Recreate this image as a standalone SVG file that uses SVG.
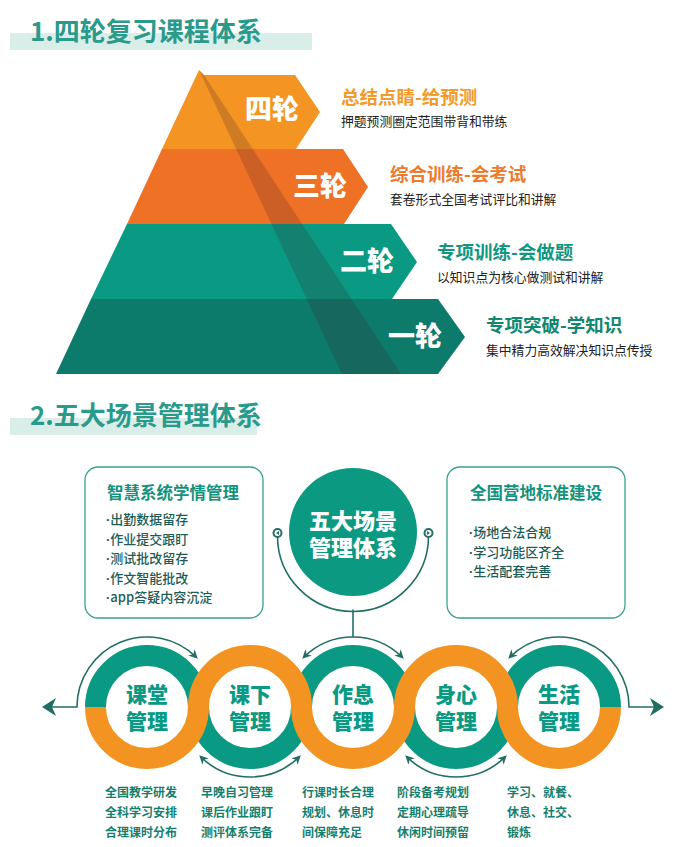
<svg xmlns="http://www.w3.org/2000/svg" width="684" height="847" viewBox="0 0 684 847">
<defs>
<style>
text { font-family: "Noto Sans CJK SC", "Noto Sans", sans-serif; }
.h1 { font-size:26px; font-weight:700; fill:#2a9a8b; }
.lvl { font-size:27px; font-weight:900; fill:#fff; }
.hd { font-size:18.5px; font-weight:700; }
.ds { font-size:12.8px; fill:#222; }
.bt { font-size:16.5px; font-weight:700; fill:#13927c; }
.bi { font-size:13px; font-weight:500; fill:#1d5c55; }
.dot { font-family: "Liberation Sans", Arial, sans-serif; font-weight:700; }
.cl { font-size:21px; font-weight:900; fill:#0a9a83; text-anchor:middle; }
.ct { font-size:22px; font-weight:900; fill:#fff; text-anchor:middle; }
.ft { font-size:12px; font-weight:700; fill:#157f6e; }
.ln { fill:none; stroke:#226f63; stroke-width:1.6; }
.box { fill:#fff; stroke:#3aa090; stroke-width:1.3; }
.bar { fill:#d9ede9; }
</style>
<marker id="ah" viewBox="0 0 10 10" refX="8" refY="5" markerWidth="9" markerHeight="9" markerUnits="userSpaceOnUse" orient="auto-start-reverse">
<path d="M0,0 L10,5 L0,10 L3,5 z" fill="#226f63"/>
</marker>
<marker id="big" viewBox="0 0 14 18" refX="12" refY="9" markerWidth="14" markerHeight="18" markerUnits="userSpaceOnUse" orient="auto">
<path d="M0,0 L14,9 L0,18 L4,9 z" fill="#1f6e61"/>
</marker>
</defs>
<rect width="684" height="847" fill="#fff"/>

<g id="title1">
<rect class="bar" x="10" y="33" width="302" height="17"/>
<text class="h1" x="30" y="41">1.四轮复习课程体系</text>
</g>

<g id="pyramid">
<polygon id="layer4" points="199,70 204,75 295,75 320,112 296,149 162,149" fill="#f39423"/>
<polygon id="layer3" points="162,149 343,149 368,187 344,224 127,224" fill="#ef7125"/>
<polygon id="layer2" points="127,224 391,224 417,262 392,299 91,299" fill="#0a9a83"/>
<polygon id="layer1" points="91,299 438,299 465,337 438,374 56,374" fill="#0d7b6c"/>
<polygon points="199,70 204,75 401,374 342,374" fill="#3b1a2a" opacity="0.2"/>
<text class="lvl" x="245" y="119">四轮</text>
<text class="lvl" x="293" y="196">三轮</text>
<text class="lvl" x="340" y="271">二轮</text>
<text class="lvl" x="388" y="346">一轮</text>
</g>

<g id="round4">
<text class="hd" x="341" y="104" fill="#f39a2c">总结点睛-给预测</text>
<text class="ds" x="341" y="126">押题预测圈定范围带背和带练</text>
</g>
<g id="round3">
<text class="hd" x="390" y="181" fill="#ee7a2e">综合训练-会考试</text>
<text class="ds" x="390" y="204">套卷形式全国考试评比和讲解</text>
</g>
<g id="round2">
<text class="hd" x="437" y="259" fill="#12967f">专项训练-会做题</text>
<text class="ds" x="437" y="282">以知识点为核心做测试和讲解</text>
</g>
<g id="round1">
<text class="hd" x="486" y="332" fill="#11876f">专项突破-学知识</text>
<text class="ds" x="486" y="355">集中精力高效解决知识点传授</text>
</g>

<g id="title2">
<rect class="bar" x="10" y="418" width="247" height="17"/>
<text class="h1" x="30" y="425">2.五大场景管理体系</text>
</g>

<g id="box-left">
<rect class="box" x="85" y="467" width="178" height="151" rx="13"/>
<text class="bt" x="107" y="499">智慧系统学情管理</text>
<text class="bi" x="106" y="524"><tspan class="dot">·</tspan>出勤数据留存</text>
<text class="bi" x="106" y="544"><tspan class="dot">·</tspan>作业提交跟盯</text>
<text class="bi" x="106" y="563"><tspan class="dot">·</tspan>测试批改留存</text>
<text class="bi" x="106" y="583"><tspan class="dot">·</tspan>作文智能批改</text>
<text class="bi" x="106" y="602"><tspan class="dot">·</tspan>app答疑内容沉淀</text>
</g>

<g id="box-right">
<rect class="box" x="447" y="467" width="178" height="151" rx="13"/>
<text class="bt" x="470" y="499">全国营地标准建设</text>
<text class="bi" x="469" y="537"><tspan class="dot">·</tspan>场地合法合规</text>
<text class="bi" x="469" y="557"><tspan class="dot">·</tspan>学习功能区齐全</text>
<text class="bi" x="469" y="576"><tspan class="dot">·</tspan>生活配套完善</text>
</g>

<g id="center">
<circle cx="353" cy="532" r="64" fill="#0b9982"/>
<text class="ct" x="353" y="529">五大场景</text>
<text class="ct" x="353" y="556">管理体系</text>
</g>

<g id="rings">
<path d="M95.5,707 A51.5,51.5 0 0 1 198.5,707 A51.5,51.5 0 0 0 301.5,707 A51.5,51.5 0 0 1 404.5,707 A51.5,51.5 0 0 0 507.5,707 A51.5,51.5 0 0 1 610.5,707" fill="none" stroke="#0a9a83" stroke-width="21"/>
<path d="M95.5,707 A51.5,51.5 0 0 0 198.5,707 A51.5,51.5 0 0 1 301.5,707 A51.5,51.5 0 0 0 404.5,707 A51.5,51.5 0 0 1 507.5,707 A51.5,51.5 0 0 0 610.5,707" fill="none" stroke="#f39322" stroke-width="21"/>
</g>

<g id="node1">
<text class="cl" x="147" y="702">课堂</text>
<text class="cl" x="147" y="729">管理</text>
</g>
<g id="node2">
<text class="cl" x="250" y="702">课下</text>
<text class="cl" x="250" y="729">管理</text>
</g>
<g id="node3">
<text class="cl" x="353" y="702">作息</text>
<text class="cl" x="353" y="729">管理</text>
</g>
<g id="node4">
<text class="cl" x="456" y="702">身心</text>
<text class="cl" x="456" y="729">管理</text>
</g>
<g id="node5">
<text class="cl" x="559" y="702">生活</text>
<text class="cl" x="559" y="729">管理</text>
</g>

<g id="connectors">
<path class="ln" d="M277.5,536 A75.5,75.5 0 0 0 428.5,536"/>
<circle cx="277.5" cy="533" r="4" fill="#fff" stroke="#226f63" stroke-width="2"/>
<path d="M279,531 L276,533 L279,535 z" fill="#226f63"/>
<circle cx="428.5" cy="533" r="4" fill="#fff" stroke="#226f63" stroke-width="2"/>
<path d="M427,531 L430,533 L427,535 z" fill="#226f63"/>
<path class="ln" d="M353,609.5 L353,637"/>
<path class="ln" d="M303.5,657.5 A70,70 0 0 1 402.5,657.5" marker-start="url(#ah)" marker-end="url(#ah)"/>
<path class="ln" d="M196.5,657.5 A70,70 0 0 0 77,707 L44,707" marker-start="url(#ah)" marker-end="url(#big)"/>
<path class="ln" d="M509.5,657.5 A70,70 0 0 1 629,707 L662,707" marker-start="url(#ah)" marker-end="url(#big)"/>
<path class="ln" d="M200.5,756.5 A70,70 0 0 0 299.5,756.5" marker-start="url(#ah)" marker-end="url(#ah)"/>
<path class="ln" d="M406.5,756.5 A70,70 0 0 0 505.5,756.5" marker-start="url(#ah)" marker-end="url(#ah)"/>
</g>

<g id="desc1">
<text class="ft" x="105" y="797">全国教学研发</text>
<text class="ft" x="105" y="817">全科学习安排</text>
<text class="ft" x="105" y="837">合理课时分布</text>
</g>
<g id="desc2">
<text class="ft" x="201" y="797">早晚自习管理</text>
<text class="ft" x="201" y="817">课后作业跟盯</text>
<text class="ft" x="201" y="837">测评体系完备</text>
</g>
<g id="desc3">
<text class="ft" x="302" y="797">行课时长合理</text>
<text class="ft" x="302" y="817">规划、休息时</text>
<text class="ft" x="302" y="837">间保障充足</text>
</g>
<g id="desc4">
<text class="ft" x="397" y="797">阶段备考规划</text>
<text class="ft" x="397" y="817">定期心理疏导</text>
<text class="ft" x="397" y="837">休闲时间预留</text>
</g>
<g id="desc5">
<text class="ft" x="507" y="797">学习、就餐、</text>
<text class="ft" x="507" y="817">休息、社交、</text>
<text class="ft" x="507" y="837">锻炼</text>
</g>
</svg>
